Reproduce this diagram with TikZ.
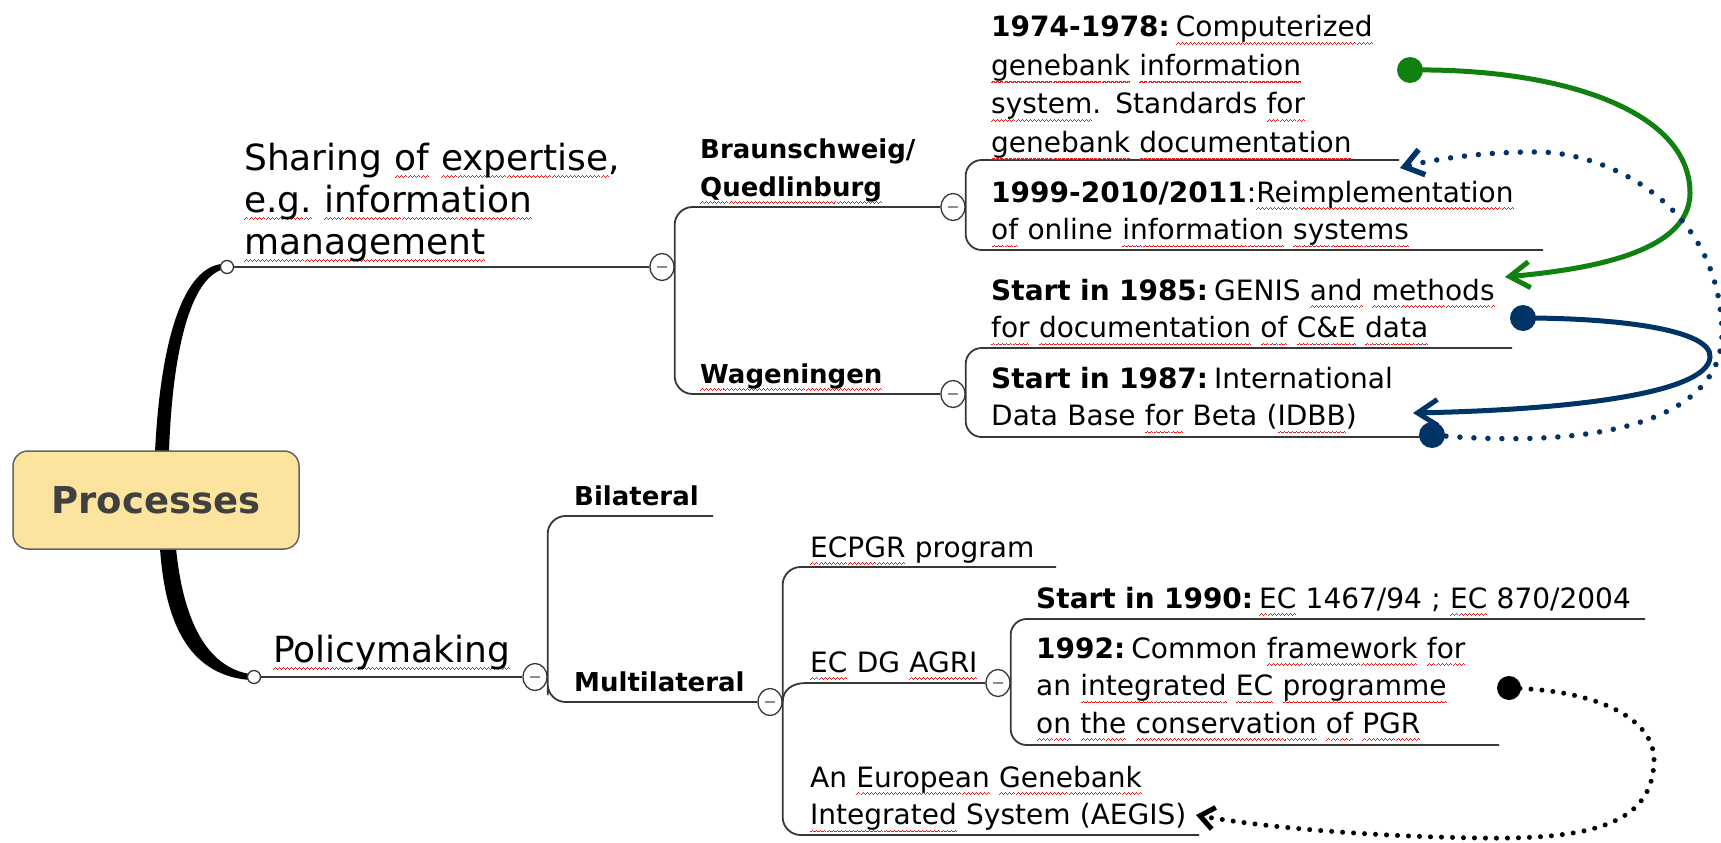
\documentclass[tikz,border=0pt]{standalone}
\usepackage{fontspec}
\setmainfont{DejaVu Sans}
\usetikzlibrary{arrows.meta,shapes.geometric}
\definecolor{linegray}{RGB}{55,55,55}
\definecolor{minusgray}{RGB}{140,140,140}
\definecolor{boxfill}{RGB}{253,228,158}
\definecolor{boxline}{RGB}{100,100,100}
\definecolor{procgray}{RGB}{64,64,64}
\definecolor{darkgreen}{RGB}{16,128,16}
\definecolor{navy}{RGB}{0,51,102}
\definecolor{spellred}{RGB}{230,30,30}
% wavy red underline (spell check marks)
\newsavebox\wvbox
\newcommand\wvpiece{\hbox{\rule[-1.3pt]{1pt}{1.1pt}\rule[-0.6pt]{1pt}{1.1pt}%
  \rule[0.1pt]{1pt}{1.1pt}\rule[-0.6pt]{1pt}{1.1pt}}}
\newcommand\wv[1]{\sbox\wvbox{#1}\leavevmode\rlap{\raisebox{-6.5pt}[0pt][0pt]{%
  \hbox to \wd\wvbox{\color{spellred}\xleaders\wvpiece\hfil}}}\usebox\wvbox}
\newcommand\hd[1]{\textbf{#1}\hspace{6pt}}
\newcommand\fA{\fontsize{36}{42}\selectfont}
\newcommand\fB{\fontsize{26}{38}\selectfont\bfseries}
\newcommand\fC{\fontsize{28}{37.5}\selectfont}
\tikzset{
  branch/.style={draw=linegray, line width=1.8pt},
  topic/.style={anchor=base west, inner sep=0pt, font=\fA, text width=420pt, align=left},
  sub/.style={anchor=base west, inner sep=0pt, font=\fB, text width=300pt, align=left},
  leaf/.style={anchor=base west, inner sep=0pt, font=\fC, text width=720pt, align=left},
  knob/.style={circle, draw=linegray, fill=white, line width=1.3pt, minimum size=13pt, inner sep=0pt},
  fold/.style={ellipse, draw=linegray, fill=white, line width=1.3pt, minimum width=24pt,
    minimum height=27pt, inner sep=0pt,
    path picture={\draw[minusgray,line width=2.6pt] ([xshift=-5pt]path picture bounding box.center)
      -- ([xshift=5pt]path picture bounding box.center);}},
  startdot/.style={circle, minimum size=26pt, inner sep=0pt},
  solidlink/.style={line width=5pt, -{Straight Barb[length=20pt,width=26pt]}},
  dotlink/.style={line width=5.5pt, line cap=round, dash pattern=on 0pt off 14pt,
    -{Straight Barb[length=18pt,width=26pt]}},
}
\begin{document}
\begin{tikzpicture}[x=1pt,y=-1pt]
\useasboundingbox (0,0) rectangle (1721,843);
% ramas gruesas
\fill (155,452) .. controls (160,350) and (180,270) .. (221,264) -- (221,270)
  .. controls (188,282) and (172,360) .. (169,452) -- cycle;
\fill (160,548) .. controls (166,640) and (200,676) .. (250,680) -- (250,674)
  .. controls (212,668) and (184,630) .. (176,548) -- cycle;
% nodo central
\node[draw=boxline, fill=boxfill, rounded corners=15pt, line width=1.5pt, minimum width=286pt,
  minimum height=98pt, font=\fontsize{37}{40}\selectfont\bfseries, text=procgray] (proc) at (156,500) {Processes};

% nodos de rama
\node[knob] (ksh) at (227,267) {};
\node[fold] (csh) at (662,267) {};
\node[knob] (kpol) at (254,677) {};
\node[fold] (cpol) at (535,677) {};
\node[fold] (cbq) at (953,207) {};
\node[fold] (cw) at (953,394) {};
\node[fold] (cml) at (770,702) {};
\node[fold] (cec) at (998,683) {};

% extremos libres
\coordinate (e1974) at (1399,160);
\coordinate (e1999) at (1543,250);
\coordinate (e1985) at (1512,348);
\coordinate (e1987) at (1425,437);
\coordinate (ebil) at (713,516);
\coordinate (eecp) at (1056,567);
\coordinate (eaeg) at (1199,835);
\coordinate (e1990) at (1645,619);
\coordinate (e1992) at (1499,745);
\coordinate (ecbend) at (806,683);

% lineas del arbol
\draw[branch] (ksh) -- (csh);
\draw[branch] (kpol) -- (cpol);
\draw[branch, rounded corners=18pt] (cbq.west) -| (csh.east) |- (cw.west);
\draw[branch, rounded corners=16pt] (e1974) -| (cbq.east) |- (e1999);
\draw[branch, rounded corners=16pt] (e1985) -| (cw.east) |- (e1987);
\draw[branch, rounded corners=18pt] (ebil) -| (cpol.east) |- (cml.west);
\draw[branch, rounded corners=18pt] (eecp) -| (cml.east) |- (eaeg);
\draw[branch] (cml.east) .. controls +(0,-12) and +(-14,0) .. (ecbend) -- (cec.west);
\draw[branch, rounded corners=16pt] (e1990) -| (cec.east) |- (e1992);

% textos
\node[topic] (tsh) at (244,170) {Sharing \wv{of} \wv{expertise},\\ \wv{e.g.} \wv{information}\\ \wv{management}};
\node[topic] (tpol) at (273,662) {\wv{Policymaking}};
\node[sub] (tbq) at (700,158) {Braunschweig/\\ \wv{Quedlinburg}};
\node[sub] (tw) at (700,383) {\wv{Wageningen}};
\node[sub] (tbil) at (574,505) {Bilateral};
\node[sub] (tml) at (574,691) {Multilateral};
\node[leaf, font=\fontsize{28}{38.5}\selectfont] (t1974) at (991,37) {\hd{1974-1978:}\wv{Computerized}\\ \wv{genebank} \wv{information}\\
  \wv{system}. Standards \wv{for}\\ \wv{genebank} \wv{documentation}};
\node[leaf] (t1999) at (991,202) {\textbf{1999-2010/2011}:\wv{Reimplementation}\\ \wv{of} online \wv{information} \wv{systems}};
\node[leaf] (t1985) at (991,300) {\hd{Start in 1985:}GENIS \wv{and} \wv{methods}\\
  \wv{for} \wv{documentation} \wv{of} \wv{C\&E} \wv{data}};
\node[leaf] (t1987) at (991,388) {\hd{Start in 1987:}International\\ Data Base \wv{for} Beta (\wv{IDBB})};
\node[leaf] (tecp) at (810,557) {\wv{ECPGR} program};
\node[leaf] (tec) at (810,672) {\wv{EC} DG \wv{AGRI}};
\node[leaf] (t1990) at (1036,608) {\hd{Start in 1990:}\wv{EC} 1467/94 ; \wv{EC} 870/2004};
\node[leaf] (t1992) at (1036,658) {\hd{1992:}Common \wv{framework} \wv{for}\\
  an \wv{integrated} \wv{EC} \wv{programme}\\ \wv{on} \wv{the} \wv{conservation} \wv{of} \wv{PGR}};
\node[leaf] (taeg) at (810,787) {An \wv{European} \wv{Genebank}\\ \wv{Integrated} System (AEGIS)};

% flechas
\node[startdot, fill=darkgreen] (gdot) at (1410,70) {};
\node[startdot, fill=navy] (bdot) at (1523,318) {};
\node[startdot, fill=navy] (bdot2) at (1432,435) {};
\node[startdot, fill=black, minimum size=24pt] (kdot) at (1509,688) {};
\coordinate (g1985) at (1505,277);
\coordinate (b1987) at (1413,413);
\coordinate (b1999) at (1400,168);
\coordinate (kaeg) at (1196,815);
\draw[solidlink, darkgreen] (gdot.center) .. controls (1560,68) and (1690,110) .. (1690,193)
  .. controls (1690,255) and (1580,270) .. (g1985);
\draw[solidlink, navy] (bdot.center) .. controls (1620,318) and (1712,330) .. (1710,357)
  .. controls (1708,395) and (1560,410) .. (b1987);
\draw[dotlink, navy] (bdot2.center) .. controls (1600,450) and (1725,420) .. (1722,330)
  .. controls (1718,200) and (1600,150) .. (1533,152) .. controls (1480,152) and (1430,160) .. (b1999);
\draw[dotlink, black, line width=5pt, dash pattern=on 0pt off 11pt, -{Straight Barb[length=14pt,width=22pt]}]
  (kdot.center) .. controls (1600,690) and (1656,720) .. (1654,762)
  .. controls (1652,820) and (1600,840) .. (1480,838) .. controls (1350,836) and (1250,825) .. (kaeg);
\end{tikzpicture}
\end{document}
